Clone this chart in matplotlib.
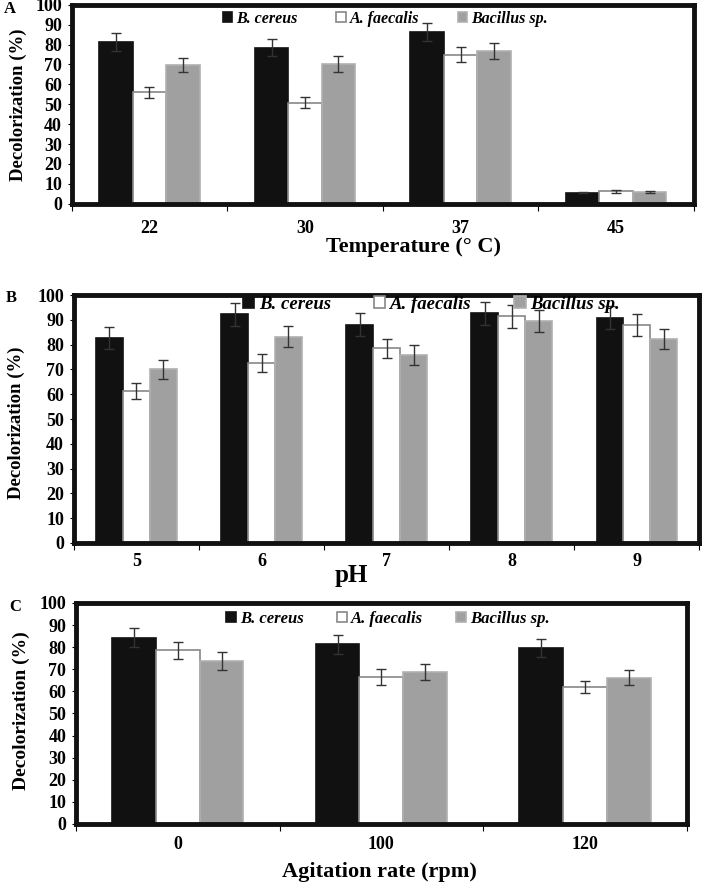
import numpy as np
import matplotlib
matplotlib.use('Agg')
import matplotlib.pyplot as plt

plt.rcParams['font.family'] = 'Liberation Serif'
plt.rcParams['font.weight'] = 'bold'

# --- Data ---
strains = ['B. cereus', 'A. faecalis', 'Bacillus sp.']

temp_labels = ['22', '30', '37', '45']
temp_bc = [81.5, 78.5, 86.2, 5.5]
temp_af = [56.0, 50.7, 75.0, 6.2]
temp_bs = [69.7, 70.3, 76.8, 5.8]
temp_bc_err = [4.5, 4.2, 4.6, 0.3]
temp_af_err = [2.8, 2.8, 3.8, 0.6]
temp_bs_err = [3.5, 4.0, 3.9, 0.4]

ph_labels = ['5', '6', '7', '8', '9']
ph_bc = [82.8, 92.2, 88.1, 92.6, 90.9]
ph_af = [61.2, 72.6, 78.5, 91.5, 88.0]
ph_bs = [70.0, 83.2, 75.9, 89.6, 82.3]
ph_bc_err = [4.4, 4.6, 4.6, 4.6, 4.6]
ph_af_err = [3.3, 3.8, 3.9, 4.6, 4.4]
ph_bs_err = [3.8, 4.2, 4.0, 4.5, 4.2]

agit_labels = ['0', '100', '120']
agit_bc = [84.2, 81.2, 79.8]
agit_af = [78.6, 66.5, 61.8]
agit_bs = [73.6, 68.8, 66.2]
agit_bc_err = [4.3, 4.3, 4.1]
agit_af_err = [3.8, 3.8, 2.7]
agit_bs_err = [4.0, 3.5, 3.3]

face = ['#111111', 'white', '#a0a0a0']
edge = ['#111111', '#888888', '#b0b0b0']


def draw_panel(ax, labels, series, errs, xlabel, xlab_fs, letter, let_y,
               xlab_pos, ylab_pos, ylab_fs, tick_pad, leg_pos, leg_fs, leg_cs):
    n = len(labels)
    x = np.arange(n)
    w = 0.215
    for i, (vals, err) in enumerate(zip(series, errs)):
        ax.bar(x + (i - 1) * w, vals, w, color=face[i], edgecolor=edge[i],
               linewidth=1.2, label=strains[i], zorder=2)
        ax.errorbar(x + (i - 1) * w, vals, yerr=err, fmt='none',
                    ecolor='#333333', elinewidth=1, capsize=3.5, zorder=3)
    ax.set_xlim(-0.5, n - 0.5)
    ax.set_ylim(0, 100)
    ax.set_yticks(range(0, 101, 10))
    ax.set_xticks(np.arange(n + 1) - 0.5)
    ax.set_xticklabels([])
    ax.set_xticks(x, minor=True)
    ax.set_xticklabels(labels, minor=True)
    ax.tick_params(axis='x', which='major', length=5, width=0.8, direction='out')
    ax.tick_params(axis='x', which='minor', length=0, pad=tick_pad, labelsize=13)
    ax.tick_params(axis='y', length=3, width=0.8, labelsize=13, pad=4)
    for s in ax.spines.values():
        s.set_linewidth(3.5)
        s.set_color('#111111')
    ax.set_xlabel(xlabel, fontsize=xlab_fs, fontweight='bold')
    ax.xaxis.label.set_va('center')
    ax.xaxis.set_label_coords(*xlab_pos)
    ax.set_ylabel('Decolorization (%)', fontsize=ylab_fs, fontweight='bold')
    ax.yaxis.label.set_va('center')
    ax.yaxis.set_label_coords(*ylab_pos)
    ax.legend(loc='center left', bbox_to_anchor=leg_pos, ncol=3,
              frameon=False, borderaxespad=0, borderpad=0,
              handlelength=0.6, handleheight=0.6, handletextpad=0.25,
              columnspacing=leg_cs,
              prop={'family': 'Liberation Serif', 'weight': 'bold',
                    'style': 'italic', 'size': leg_fs})
    ax.text(-0.1, let_y, letter, transform=ax.transAxes, fontsize=12,
            fontweight='bold', va='center', ha='center')


fig = plt.figure(figsize=(7.03, 8.82), dpi=100)
axA = fig.add_axes([0.102, 0.769, 0.885, 0.2256])
axB = fig.add_axes([0.105, 0.3844, 0.890, 0.281])
axC = fig.add_axes([0.108, 0.0658, 0.869, 0.2506])

draw_panel(axA, temp_labels, [temp_bc, temp_af, temp_bs],
           [temp_bc_err, temp_af_err, temp_bs_err], 'Temperature (° C)', 16,
           'A', 0.98, (0.55, -0.216), (-0.085, 0.50), 13.5, 11.5,
           (0.243, 0.93), 11.5, 2.4)
draw_panel(axB, ph_labels, [ph_bc, ph_af, ph_bs],
           [ph_bc_err, ph_af_err, ph_bs_err], 'pH', 18,
           'B', 0.99, (0.443, -0.13), (-0.092, 0.484), 13.5, 7,
           (0.27, 0.964), 13.5, 2.3)
draw_panel(axC, agit_labels, [agit_bc, agit_af, agit_bs],
           [agit_bc_err, agit_af_err, agit_bs_err], 'Agitation rate (rpm)', 16,
           'C', 0.98, (0.497, -0.217), (-0.09, 0.511), 14, 8.5,
           (0.245, 0.928), 12, 2.0)

fig.savefig('out.png', dpi=100)
